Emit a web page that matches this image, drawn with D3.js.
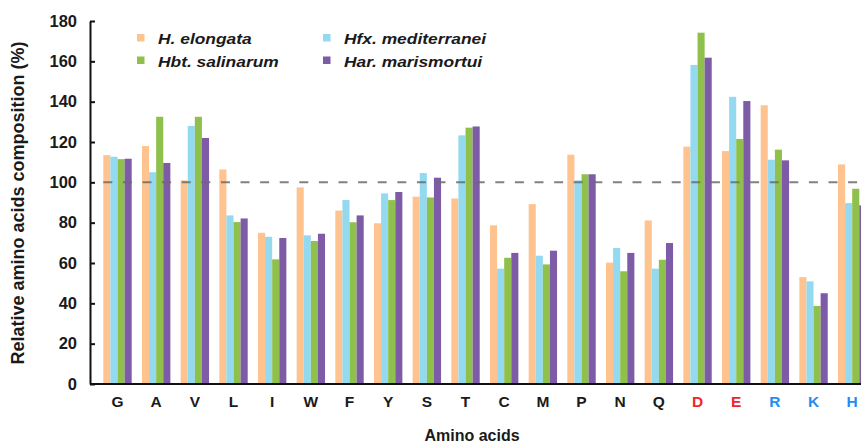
<!DOCTYPE html>
<html>
<head>
<meta charset="utf-8">
<script src="https://cdn.jsdelivr.net/npm/d3@7/dist/d3.min.js"></script>
<style>
  html, body { margin: 0; padding: 0; background: #fff; }
  svg { display: block; font-family: "Liberation Sans", Arial, sans-serif; }
</style>
</head>
<body>
<svg id="chart" width="861" height="444"></svg>
<script>
const categories = ["G","A","V","L","I","W","F","Y","S","T","C","M","P","N","Q","D","E","R","K","H"];
const acidic = ["D","E"];
const basic = ["R","K","H"];
const seriesNames = ["H. elongata","Hfx. mediterranei","Hbt. salinarum","Har. marismortui"];
const hElongata     = [113.5,118,101,106.4,75,97.5,86,79.7,92.9,92,78.7,89.2,113.7,60.2,81.1,117.7,115.5,138.2,53,108.9];
const hfxMediterranei=[112.7,105,128,83.6,73,73.7,91.2,94.5,104.6,123.3,57.2,63.6,101,67.4,57.2,158.2,142.4,111.2,50.9,89.7];
const hbtSalinarum  = [111.5,132.5,132.5,80.3,61.8,70.9,80.2,91.2,92.5,127.1,62.6,59.3,104,55.9,61.6,174.2,121.5,116.2,38.7,96.8];
const harMarismortui= [111.7,109.6,122,82.1,72.4,74.5,83.6,95.2,102.3,127.7,65,66.1,104,65,69.9,161.8,140.3,110.9,45,88.6];
const seriesValues = [hElongata, hfxMediterranei, hbtSalinarum, harMarismortui];
const colors = ["#FFC38F","#93D9EF","#8FC04C","#7D5BA6"];
const yTicks = [0,20,40,60,80,100,120,140,160,180];
const refValue = 100;

const svg = d3.select("#chart");
const x = d3.scaleBand().domain(categories).range([89, 880.7]).paddingInner(0.266).paddingOuter(0.37);
const xs = d3.scaleBand().domain(d3.range(seriesNames.length)).range([0, x.bandwidth()]);
const y = d3.scaleLinear().domain([0, 180]).range([384, 21]);

// bars
const groups = svg.append("g").selectAll("g").data(categories).join("g")
  .attr("transform", d => `translate(${x(d)},0)`);
groups.selectAll("rect")
  .data((c, i) => seriesValues.map((s, k) => ({k, v: s[i]})))
  .join("rect")
  .attr("x", d => xs(d.k))
  .attr("width", xs.bandwidth())
  .attr("y", d => y(d.v))
  .attr("height", d => y(0) - y(d.v))
  .attr("fill", d => colors[d.k]);

// reference dashed line
svg.append("line")
  .attr("x1", x(categories[0])).attr("x2", 861)
  .attr("y1", y(refValue)).attr("y2", y(refValue))
  .attr("stroke", "#6b6b6b").attr("stroke-opacity", 0.85)
  .attr("stroke-width", 2).attr("stroke-dasharray", "9,10.6");

// y axis
const yAxis = svg.append("g").attr("transform", "translate(90,0)")
  .call(d3.axisLeft(y).tickValues(yTicks).tickSizeInner(-5).tickSizeOuter(0).tickPadding(13));
yAxis.select(".domain").attr("stroke", "#111").attr("stroke-width", 2);
yAxis.selectAll(".tick line").attr("stroke", "#111").attr("stroke-width", 2);
yAxis.selectAll(".tick text").attr("font-size", 16.5).attr("font-weight", "bold")
  .attr("fill", "#1a1a1a").attr("font-family", "Liberation Sans, Arial, sans-serif");

// x axis
const xAxis = svg.append("g").attr("transform", "translate(0,384)")
  .call(d3.axisBottom(x).tickSize(0).tickPadding(12).tickSizeOuter(0));
xAxis.select(".domain").attr("stroke", "#111").attr("stroke-width", 2.2)
  .attr("d", "M90,0H880");
xAxis.selectAll(".tick text").attr("font-size", 15.5).attr("font-weight", "bold")
  .attr("font-family", "Liberation Sans, Arial, sans-serif")
  .attr("fill", d => acidic.includes(d) ? "#F0262B" : (basic.includes(d) ? "#1E8FF0" : "#1a1a1a"));

// axis titles
svg.append("text")
  .attr("transform", "translate(24,203) rotate(-90)")
  .attr("text-anchor", "middle")
  .attr("font-size", 18).attr("font-weight", "bold").attr("fill", "#1a1a1a")
  .text("Relative amino acids composition (%)");
svg.append("text")
  .attr("x", 472).attr("y", 441)
  .attr("text-anchor", "middle")
  .attr("font-size", 16).attr("font-weight", "bold").attr("fill", "#1a1a1a")
  .text("Amino acids");

// legend
const legendPos = [[137, 34], [323, 34], [137, 56.5], [323, 56.5]];
const legend = svg.append("g").selectAll("g").data(seriesNames).join("g")
  .attr("transform", (d, i) => `translate(${legendPos[i][0]},${legendPos[i][1]})`);
legend.append("rect").attr("width", 7.5).attr("height", 7.5)
  .attr("fill", (d, i) => colors[i]);
legend.append("text")
  .attr("transform", "translate(21,10) scale(1.2,1)")
  .attr("font-size", 14.5).attr("font-weight", "bold").attr("font-style", "italic")
  .attr("fill", "#1a1a1a")
  .text(d => d);
</script>
</body>
</html>
